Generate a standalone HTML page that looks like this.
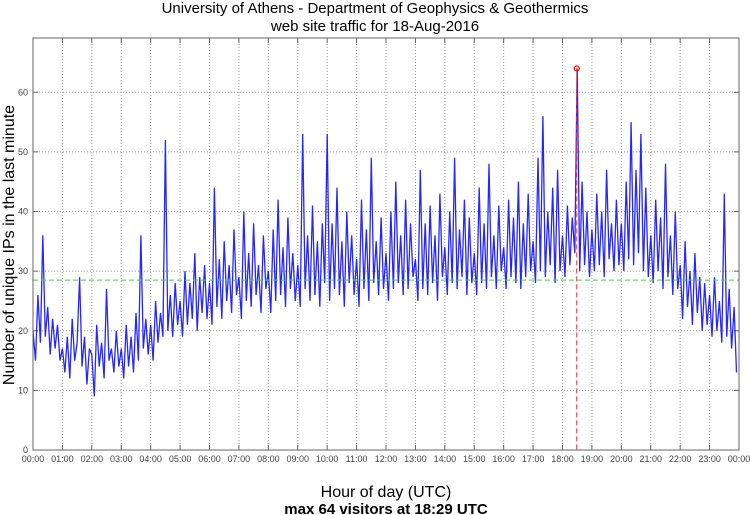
<!DOCTYPE html>
<html><head><meta charset="utf-8">
<style>
body{margin:0;background:#fff;}
svg{display:block;font-family:"Liberation Sans",sans-serif;}
</style></head>
<body>
<svg id="chart" width="750" height="515">
<text x="375" y="13" text-anchor="middle" font-size="15">University of Athens - Department of Geophysics &amp; Geothermics</text>
<text x="375" y="31" text-anchor="middle" font-size="15">web site traffic for 18-Aug-2016</text>
<text x="386" y="497" text-anchor="middle" font-size="16">Hour of day (UTC)</text>
<text x="386" y="514" text-anchor="middle" font-size="15" font-weight="bold">max 64 visitors at 18:29 UTC</text>
<text transform="translate(14,245) rotate(-90)" text-anchor="middle" font-size="16">Number of unique IPs in the last minute</text>
<g id="grid"></g>
<g id="series"></g>
<g id="overlay"></g>
<rect x="33" y="38" width="706" height="412" fill="none" stroke="#666" stroke-width="1"/>
</svg>
<script>
const yTicks=[0,10,20,30,40,50,60];
const hourTicks=[0,1,2,3,4,5,6,7,8,9,10,11,12,13,14,15,16,17,18,19,20,21,22,23,24];
const meanValue=28.5;
const peakHour=18+29/60;
const peakValue=64;
const minutesPerSample=5;
const visitors=[
20,15,26,18,36,19,24,16,22,17,21,15,
17,13,19,12,22,15,18,29,14,19,11,17,
16,9,21,14,18,12,27,15,17,13,20,14,
17,12,21,14,19,13,23,15,36,17,22,16,
21,15,25,18,23,19,52,20,26,19,28,21,
25,19,30,21,28,22,33,20,29,23,31,22,
28,21,44,24,32,22,35,25,31,23,37,26,
29,22,40,25,33,24,38,26,31,23,36,27,
30,23,37,25,42,26,34,24,39,27,33,25,
31,24,53,27,36,25,41,26,35,24,38,28,
53,25,38,27,44,26,35,24,40,28,36,26,
32,24,42,27,37,25,49,28,35,26,39,27,
33,25,40,27,45,28,36,26,42,27,38,29,
32,25,47,27,38,26,41,28,36,25,43,29,
34,26,40,28,49,27,37,29,42,26,39,28,
33,26,44,28,38,27,48,29,36,27,41,30,
34,27,42,29,39,28,45,27,38,29,43,30,
35,28,49,30,56,29,40,31,44,28,47,30,
36,29,41,31,39,33,64,30,45,31,40,29,
37,30,43,31,40,29,47,32,38,30,42,31,
38,30,45,32,55,31,47,33,53,30,44,29,
36,28,42,30,39,27,48,29,36,26,40,27,
31,22,35,24,30,21,33,23,29,20,28,21,
26,19,29,20,25,18,43,19,27,17,24,13];

const NS="http://www.w3.org/2000/svg";
const X0=33,X1=739,Y0=450,Ymax=69.1,Ytop=38;
const xs=h=>X0+(X1-X0)*h/24;
const ys=v=>Y0-(Y0-Ytop)*v/Ymax;
function mk(tag,attrs,parent){const e=document.createElementNS(NS,tag);for(const k in attrs)e.setAttribute(k,attrs[k]);parent.appendChild(e);return e;}
const grid=document.getElementById('grid');
yTicks.forEach(v=>{
  const y=ys(v);
  if(v>0){const l=mk('line',{x1:X0,x2:X1,y1:y,y2:y,stroke:'#999','stroke-dasharray':'1,2','stroke-width':1},grid);
  
  }
  const t=mk('line',{x1:X0,x2:X0+5,y1:y,y2:y,stroke:'#666'},grid);
  
  
  const t2=mk('line',{x1:X1-5,x2:X1,y1:y,y2:y,stroke:'#666'},grid);
  
  
  const tx=mk('text',{x:X0-5,y:y+3,'text-anchor':'end','font-size':9,fill:'#444'},grid);
  tx.textContent=v;
  
  
});
hourTicks.forEach(h=>{
  const x=xs(h);
  if(h>0&&h<24){const l=mk('line',{x1:x,x2:x,y1:Ytop,y2:Y0,stroke:'#999','stroke-dasharray':'1,2','stroke-width':1},grid);
  
  }
  const t=mk('line',{x1:x,x2:x,y1:Y0-5,y2:Y0,stroke:'#666'},grid);
  
  
  const t2=mk('line',{x1:x,x2:x,y1:Ytop,y2:Ytop+5,stroke:'#666'},grid);
  
  
  const tx=mk('text',{x:x,y:Y0+12,'text-anchor':'middle','font-size':9,fill:'#444'},grid);
  tx.textContent=String(h%24===0&&h>0?0:h).padStart(2,'0')+':00';
  
  
});
const series=document.getElementById('series');
const pts=visitors.map((v,i)=>xs(i*minutesPerSample/60).toFixed(1)+','+ys(v).toFixed(1)).join(' ');
const pl=mk('polyline',{points:pts,fill:'none',stroke:'#0000ff','stroke-width':1.3,'stroke-opacity':0.85},series);


const ov=document.getElementById('overlay');
const ml=mk('line',{x1:X0,x2:X1,y1:ys(meanValue),y2:ys(meanValue),stroke:'#33dd33','stroke-dasharray':'5,3','stroke-width':1},ov);


const px=xs(peakHour);
const rl=mk('line',{x1:px,x2:px,y1:ys(peakValue),y2:Y0,stroke:'#ff3333','stroke-dasharray':'5,3','stroke-width':1},ov);


const pc=mk('circle',{cx:px,cy:ys(peakValue),r:2.5,fill:'none',stroke:'#ff0000','stroke-width':1.2},ov);


</script>
</body></html>
